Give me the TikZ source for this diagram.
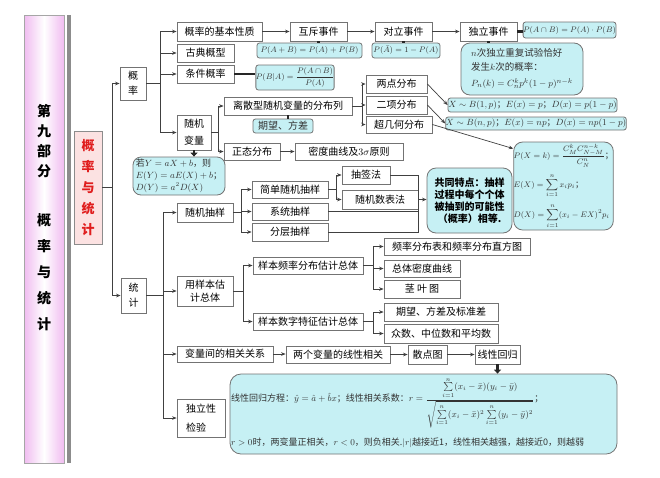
\documentclass[tikz,border=0pt]{standalone}
\usepackage{amsmath}
\usepackage[no-math]{fontspec}
\setmainfont{Noto Sans CJK SC}
\usetikzlibrary{arrows.meta,calc}
\definecolor{boxcyan}{RGB}{198,240,244}
\definecolor{barpink}{RGB}{240,188,240}
\definecolor{redfill}{RGB}{252,226,226}
\definecolor{redtext}{RGB}{224,30,30}
\tikzset{>={Stealth[length=4.5pt,width=3.6pt]}}

\begin{document}
\begin{tikzpicture}[x=1pt,y=-1pt,
    sz/.style 2 args={minimum width=#1,minimum height=#2},
    box/.style={draw=black!55,line width=.8pt,fill=white,inner sep=0pt,font=\fontsize{10}{12}\selectfont},
    fbox/.style={draw=black!55,line width=.8pt,fill=boxcyan,rounded corners=2.5pt,inner sep=0pt,font=\fontsize{9}{11}\selectfont,text=black!80},
    rbox/.style={fbox,rounded corners=9pt},
    wire/.style={draw=black!75,line width=.7pt},
    arr/.style={wire,->},
    stub/.style={draw=black!85,line width=2.6pt}]
  \useasboundingbox (0,0) rectangle (660,477);
  \fill[white] (0,0) rectangle (660,477);

  % left title bar
  \node[draw=black!35,left color=barpink,right color=barpink,middle color=white,sz={40}{448},inner sep=0pt] (bar) at (44,239) {};
  \fill[black!45] (67,15) rectangle (71,463);
  \node[font=\fontsize{14}{20}\selectfont\bfseries,align=center] (bart1) at (44,141) {第\\九\\部\\分};
  \node[font=\fontsize{14}{26}\selectfont\bfseries,align=center] (bart2) at (44,272.5) {概\\率\\与\\统\\计};
  \node[draw=black!45,fill=redfill,sz={28}{113},inner sep=0pt,font=\fontsize{13}{21}\selectfont\bfseries,text=redtext,align=center] (glt) at (88,187.5) {概\\率\\与\\统\\计};

  % probability
  \node[box,sz={26}{33},align=center,font=\fontsize{10}{15}\selectfont] (gl) at (133,83.5) {概\\率};
  \node[box,sz={85}{19}] (jbxz) at (219.5,31.5) {概率的基本性质};
  \node[box,sz={57}{18}] (gd) at (205.5,53) {古典概型};
  \node[box,sz={57}{18}] (tjgl) at (205.5,74) {条件概率};
  \node[box,sz={34}{35},align=center,font=\fontsize{10}{17}\selectfont] (sjbl) at (194,132.5) {随机\\变量};
  \node[box,sz={57}{19}] (hc) at (318.5,31.5) {互斥事件};
  \node[box,sz={57}{19}] (dlsj) at (403.5,31.5) {对立事件};
  \node[box,sz={57}{19}] (dl) at (488.5,31.5) {独立事件};
  \node[fbox,sz={85}{16},font=\fontsize{8}{10}\selectfont] (pdl) at (569.5,30) {$P(A\cap B)=P(A)\cdot P(B)$};
  \node[fbox,sz={105}{15},font=\fontsize{8.5}{10}\selectfont] (phc) at (309.5,50.5) {$P(A+B)=P(A)+P(B)$};
  \node[fbox,sz={68}{15},font=\fontsize{8.5}{10}\selectfont] (pdlsj) at (406,50.5) {$P(\bar{A})=1-P(A)$};
  \node[rbox,sz={122}{52},align=left,font=\fontsize{9.5}{14}\selectfont] (pnk) at (522,69) {$n$次独立重复试验恰好\\发生$k$次的概率：\\[2pt]$P_n(k)=C_n^kp^k(1-p)^{n-k}$};
  \node[fbox,sz={76}{25},font=\fontsize{8.5}{10}\selectfont] (pba) at (295,77.5) {$P(B|A)=\dfrac{P(A\cap B)}{P(A)}$};

  % random variables
  \node[box,sz={128}{18}] (lsx) at (288,106) {离散型随机变量的分布列};
  \node[fbox,sz={60}{14},font=\fontsize{10}{12}\selectfont] (qw) at (283,126) {期望、方差};
  \node[box,sz={56}{17}] (ztfb) at (252,151.5) {正态分布};
  \node[box,sz={108}{17}] (mdqx) at (349,151.5) {密度曲线及$3\sigma$原则};
  \node[box,sz={61}{18}] (ldfb) at (396.5,84) {两点分布};
  \node[box,sz={61}{18}] (exfb) at (396.5,105) {二项分布};
  \node[box,sz={66}{17}] (cjh) at (399,124.5) {超几何分布};
  \node[fbox,sz={169}{14}] (bx1) at (532.5,105) {$X\sim B(1,p)$；$E(x)=p$；$D(x)=p(1-p)$};
  \node[fbox,sz={172}{13}] (bx2) at (536,123.5) {$X\sim B(n,p)$；$E(x)=np$；$D(x)=np(1-p)$};
  \node[rbox,sz={97}{88},align=left,font=\fontsize{8.5}{10}\selectfont] (hyp) at (563.5,186) {$\displaystyle P(X=k)=\frac{C_M^kC_{N-M}^{n-k}}{C_N^n}$；\\[5pt]$\displaystyle E(X)=\sum_{i=1}^n x_ip_i$；\\[5pt]$\displaystyle D(X)=\sum_{i=1}^n(x_i-EX)^2p_i$};
  \node[fbox,rounded corners=8pt,sz={92}{38},align=left,font=\fontsize{9}{12}\selectfont] (ey) at (179,176) {若$Y=aX+b$，则\\$E(Y)=aE(X)+b$；\\$D(Y)=a^2D(X)$};

  % statistics
  \node[box,sz={25}{35},align=center,font=\fontsize{10}{15}\selectfont] (tj) at (133.5,295.5) {统\\计};
  \node[box,sz={56}{19}] (sjcy) at (205,212.5) {随机抽样};
  \node[box,sz={56}{30},align=center,font=\fontsize{10}{13}\selectfont] (ybgj) at (205,291) {用样本估\\计总体};
  \node[box,sz={96}{16}] (bljxg) at (225,354) {变量间的相关关系};
  \node[box,sz={48}{38},align=left,font=\fontsize{10}{19}\selectfont] (dlxjy) at (201,418) {独立性\\检验};
  \node[box,sz={76}{17}] (jdsj) at (290,189.5) {简单随机抽样};
  \node[box,sz={76}{17}] (xtcy) at (290,211.5) {系统抽样};
  \node[box,sz={76}{18}] (fccy) at (290,232) {分层抽样};
  \node[box,sz={48}{18}] (cqf) at (366,175) {抽签法};
  \node[box,sz={76}{19}] (sjsb) at (380,199.5) {随机数表法};
  \node[rbox,sz={85}{65},align=center,font=\fontsize{10}{12}\selectfont\bfseries,text=black] (gtd) at (469.5,200.5) {共同特点：抽样\\过程中每个个体\\被抽到的可能性\\（概率）相等.};
  \node[box,sz={110}{17}] (ypfb) at (308,265.5) {样本频率分布估计总体};
  \node[box,sz={110}{17}] (yszt) at (308,321.5) {样本数字特征估计总体};
  \node[box,sz={146}{17}] (pfzf) at (457,246.5) {频率分布表和频率分布直方图};
  \node[box,sz={76}{17}] (ztmd) at (422,268.5) {总体密度曲线};
  \node[box,sz={76}{18}] (jyt) at (422,289) {茎\ 叶\ 图};
  \node[box,sz={114}{18}] (qwfc) at (441,312) {期望、方差及标准差};
  \node[box,sz={114}{19}] (zszw) at (441,333.5) {众数、中位数和平均数};
  \node[box,sz={104}{17}] (lgbl) at (338,354.5) {两个变量的线性相关};
  \node[box,sz={39}{19}] (sdt) at (427.5,354.5) {散点图};
  \node[box,sz={45}{19}] (xxhg) at (497.5,354.5) {线性回归};
  \node[rbox,rounded corners=11pt,sz={387}{80}] (big) at (423.5,414) {};
  \node[anchor=west,inner sep=0pt,font=\fontsize{9}{11}\selectfont,text=black!80] (big1) at (231,403) {线性回归方程：$\hat{y}=\hat{a}+\hat{b}x$；线性相关系数：$r=\dfrac{\sum\limits_{i=1}^n(x_i-\bar{x})(y_i-\bar{y})}{\sqrt{\sum\limits_{i=1}^n(x_i-\bar{x})^2\sum\limits_{i=1}^n(y_i-\bar{y})^2}}$；};
  \node[anchor=west,inner sep=0pt,font=\fontsize{9}{11}\selectfont,text=black!80] (big2) at (231,443) {$r>0$时，两变量正相关，$r<0$，则负相关.$|r|$越接近1，线性相关越强，越接近0，则越弱};

  % main branches
  \path (glt.east) ++(10,0) coordinate (ms);
  \draw[wire] (glt.east) -- (ms);
  \draw[wire] (ms |- gl.west) -- (ms |- tj.west);
  \foreach \c in {gl,tj} \draw[arr] (ms |- \c.west) -- (\c.west);

  % probability connectors
  \path (gl.east) ++(14,0) coordinate (s1);
  \draw[wire] (gl.east) -- (s1);
  \draw[wire] (s1 |- jbxz.west) -- (s1 |- sjbl.west);
  \foreach \c in {jbxz,gd,tjgl,sjbl} \draw[arr] (s1 |- \c.west) -- (\c.west);
  \draw[arr] (jbxz) -- (hc);
  \draw[arr] (hc) -- (dlsj);
  \draw[arr] (dlsj) -- (dl);
  \draw[stub] (hc.south) -- (hc.south |- phc.north);
  \draw[stub] (dlsj.south) -- (dlsj.south |- pdlsj.north);
  \draw[stub] (dl.south) -- (dl.south |- pnk.north);
  \draw[stub] (dl.east) -- (dl.east -| pdl.west);
  \draw[stub] (tjgl.east) -- (tjgl.east -| pba.west);
  \draw[stub] (lsx.south) -- (lsx.south |- qw.north);
  \draw[stub,-{Triangle[length=4pt,width=7pt]}] (sjbl.south) -- (sjbl.south |- ey.north);

  \path (sjbl.east) ++(7,0) coordinate (s2);
  \draw[wire] (sjbl.east) -- (s2);
  \draw[wire] (s2 |- lsx.west) -- (s2 |- ztfb.west);
  \foreach \c in {lsx,ztfb} \draw[arr] (s2 |- \c.west) -- (\c.west);
  \draw[arr] (ztfb) -- (mdqx);
  \path (lsx.east) ++(10,0) coordinate (s3);
  \draw[wire] (lsx.east) -- (s3);
  \draw[wire] (s3 |- ldfb.west) -- (s3 |- cjh.west);
  \foreach \c in {ldfb,exfb,cjh} \draw[arr] (s3 |- \c.west) -- (\c.west);
  \draw[arr] (ldfb.east) -- (bx1.west);
  \draw[arr] (exfb.east) -- (bx2.west);
  \draw[arr] (cjh.east) -- ($(hyp.north west)+(0,7)$);

  % statistics connectors
  \path (tj.east) ++(17,0) coordinate (s4);
  \draw[wire] (tj.east) -- (s4);
  \draw[wire] (s4 |- sjcy.west) -- (s4 |- dlxjy.west);
  \foreach \c in {sjcy,ybgj,bljxg,dlxjy} \draw[arr] (s4 |- \c.west) -- (\c.west);
  \path (sjcy.east) ++(8,0) coordinate (s5);
  \draw[wire] (sjcy.east) -- (s5);
  \draw[wire] (s5 |- jdsj.west) -- (s5 |- fccy.west);
  \foreach \c in {jdsj,xtcy,fccy} \draw[arr] (s5 |- \c.west) -- (\c.west);
  \path (jdsj.east) ++(8,0) coordinate (s6);
  \draw[wire] (jdsj.east) -- (s6);
  \draw[wire] (s6 |- cqf.west) -- (s6 |- sjsb.west);
  \foreach \c in {cqf,sjsb} \draw[arr] (s6 |- \c.west) -- (\c.west);
  \coordinate (s10) at (sjsb.east);
  \draw[wire] (cqf.east) -- (cqf.east -| s10) -- (fccy.east -| s10) -- (fccy.east);
  \draw[wire] (xtcy.east) -- (xtcy.east -| s10);
  \draw[arr] (sjsb.east) -- (sjsb.east -| gtd.west);

  \path (ybgj.east) ++(10,0) coordinate (s7);
  \draw[wire] (ybgj.east) -- (s7);
  \draw[wire] (s7 |- ypfb.west) -- (s7 |- yszt.west);
  \foreach \c in {ypfb,yszt} \draw[arr] (s7 |- \c.west) -- (\c.west);
  \path (ypfb.east) ++(10,0) coordinate (s8);
  \draw[wire] (ypfb.east) -- (s8);
  \draw[wire] (s8 |- pfzf.west) -- (s8 |- jyt.west);
  \foreach \c in {pfzf,ztmd,jyt} \draw[arr] (s8 |- \c.west) -- (\c.west);
  \path (yszt.east) ++(10,0) coordinate (s9);
  \draw[wire] (yszt.east) -- (s9);
  \draw[wire] (s9 |- qwfc.west) -- (s9 |- zszw.west);
  \foreach \c in {qwfc,zszw} \draw[arr] (s9 |- \c.west) -- (\c.west);

  \draw[arr] (bljxg.east) -- (bljxg.east -| lgbl.west);
  \draw[arr] (lgbl) -- (sdt);
  \draw[arr] (sdt) -- (xxhg);
  \draw[stub,-{Triangle[length=4pt,width=7pt]}] (xxhg.south) -- (xxhg.south |- big.north);
\end{tikzpicture}
\end{document}
